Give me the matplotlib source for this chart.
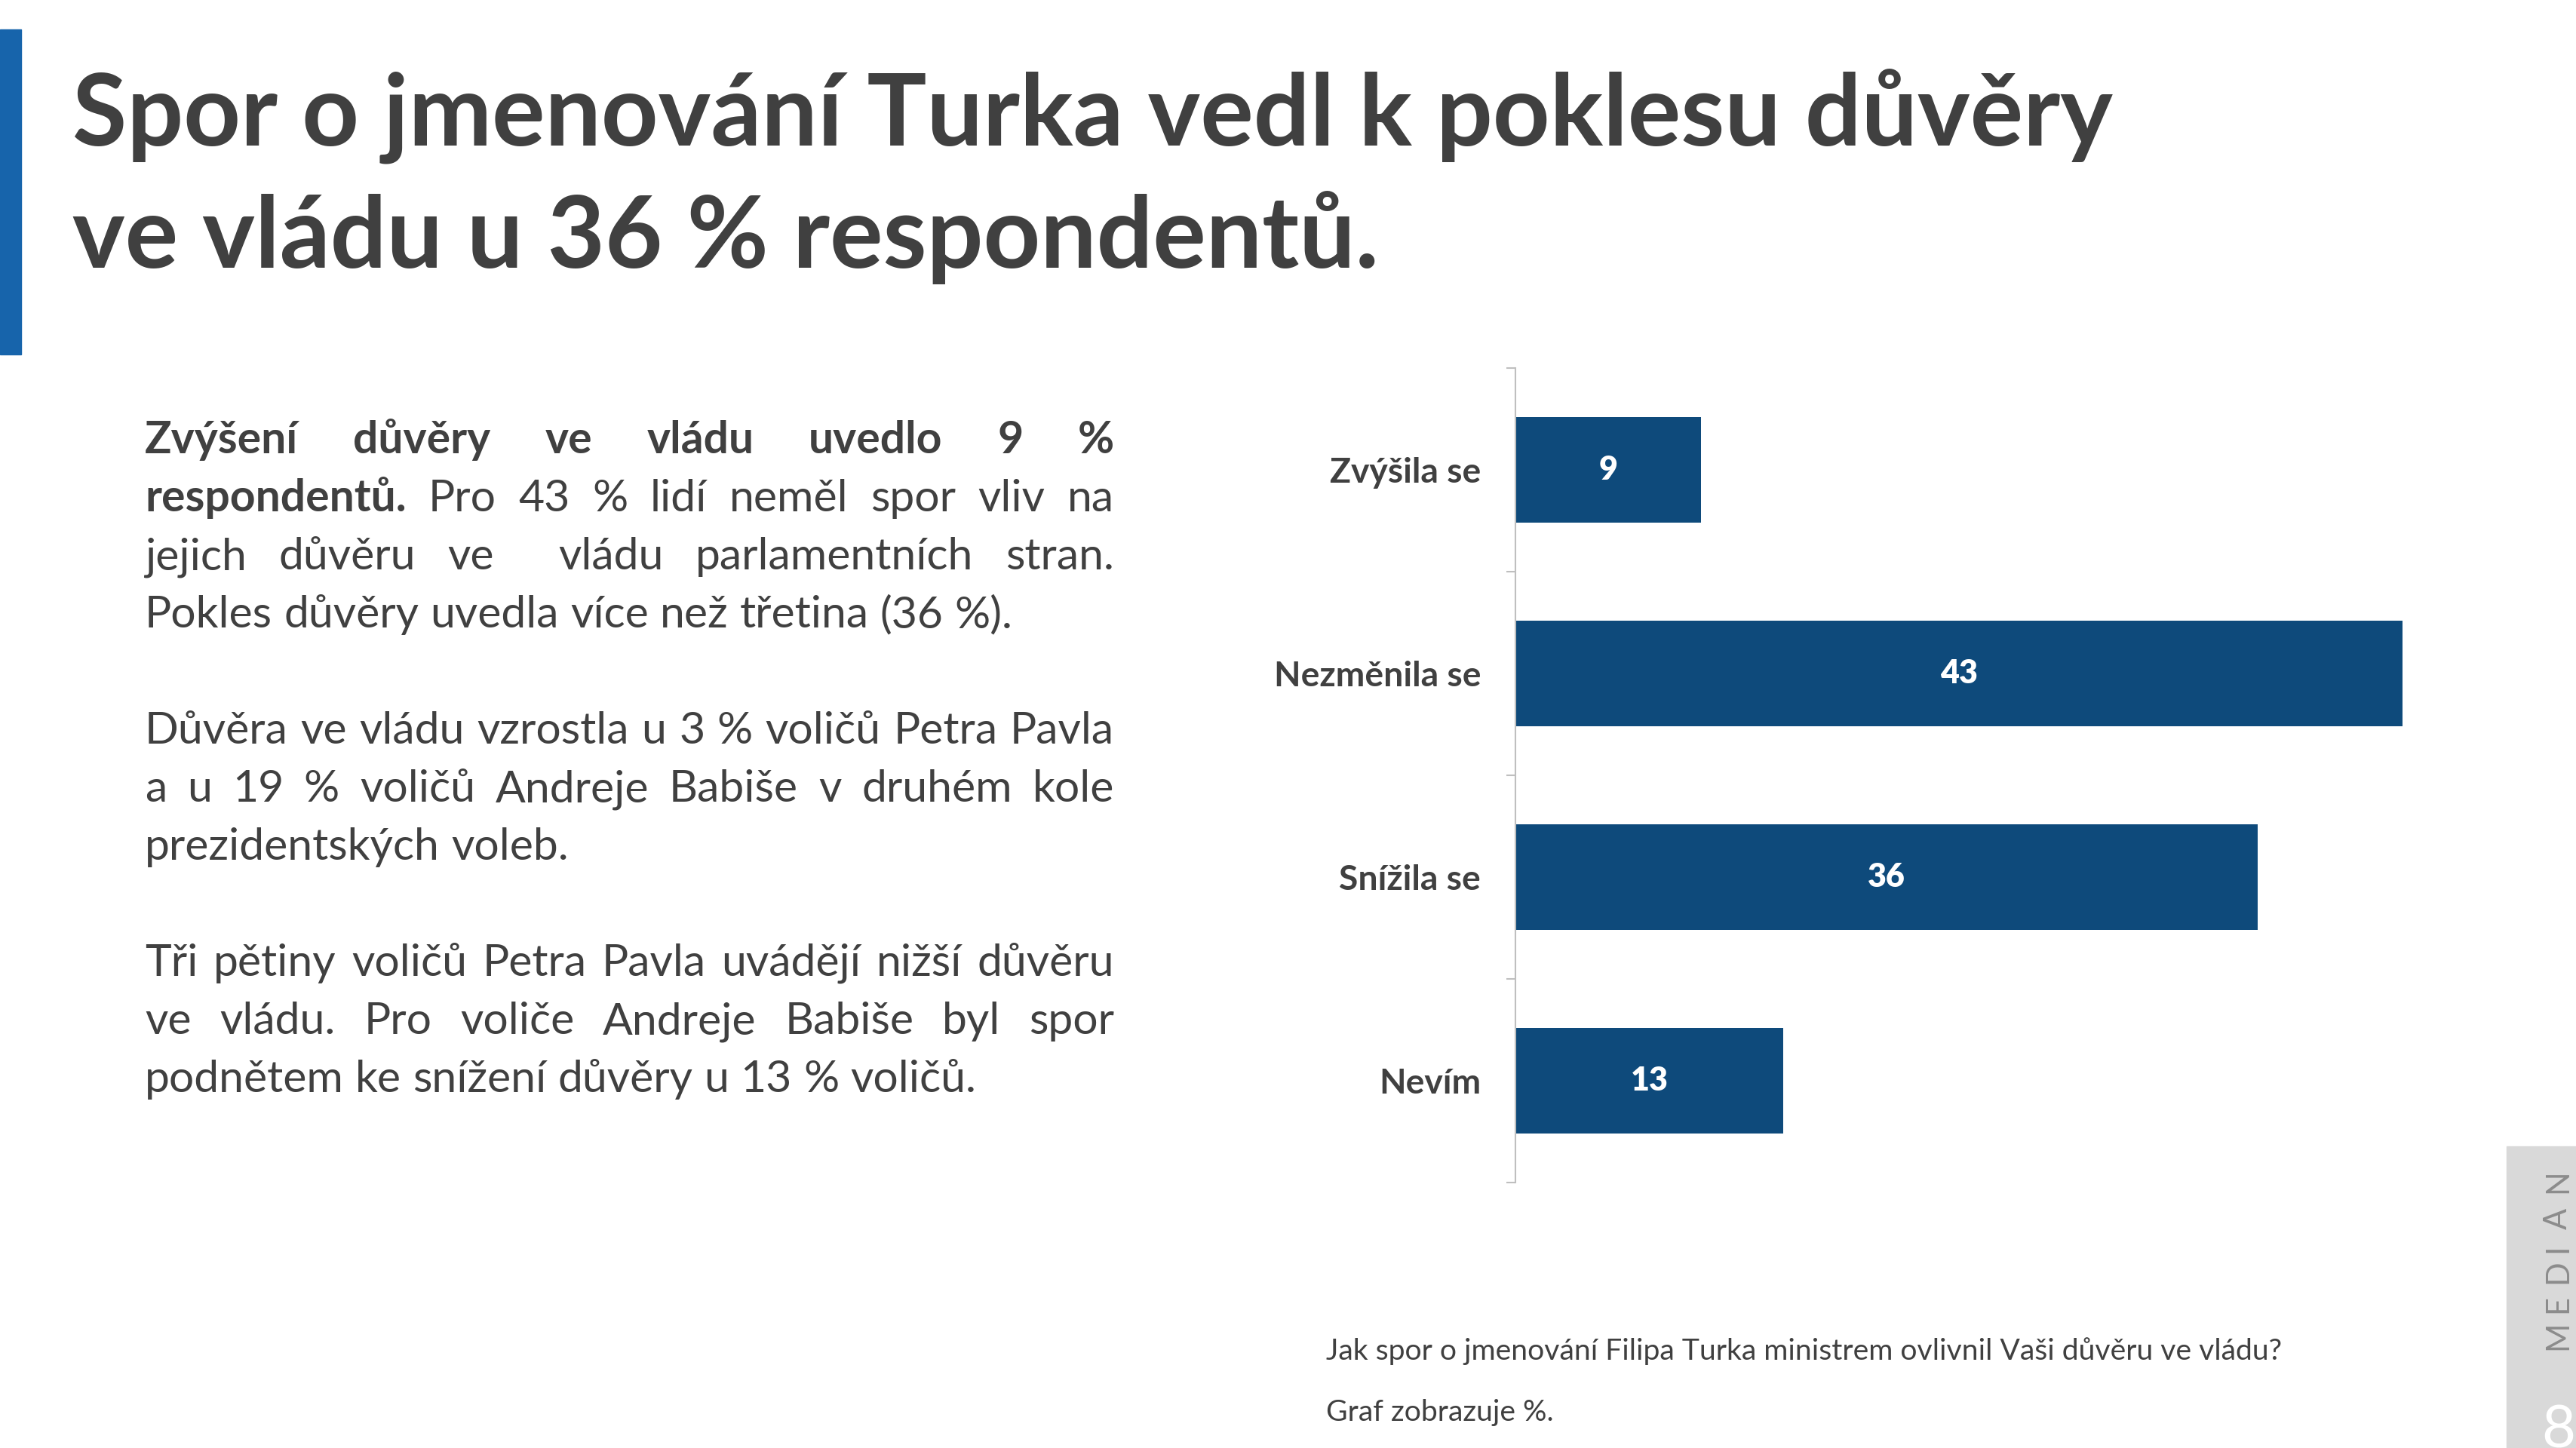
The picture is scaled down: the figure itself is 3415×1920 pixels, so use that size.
import numpy as np
import matplotlib.pyplot as plt
from matplotlib.patches import Rectangle

W, H = 3415, 1920
DPI = 100
FAM = ['Lato', 'DejaVu Sans']
DARK = '#404040'
BAR = '#0e4a7b'
ACCENT = '#1764ab'

categories = ['Zvýšila se', 'Nezměnila se', 'Snížila se', 'Nevím']
values = [9, 43, 36, 13]

title_lines = ['Spor o jmenování Turka vedl k poklesu důvěry',
               've vládu u 36 % respondentů.']

# (bold part, regular part, justified?) ; None = empty line
paragraph_lines = [
    ('Zvýšení důvěry ve vládu uvedlo 9 %', '', True),
    ('respondentů.', 'Pro 43 % lidí neměl spor vliv na', True),
    ('', 'jejich důvěru ve  vládu parlamentních stran.', True),
    ('', 'Pokles důvěry uvedla více než třetina (36 %).', False),
    None,
    ('', 'Důvěra ve vládu vzrostla u 3 % voličů Petra Pavla', True),
    ('', 'a u 19 % voličů Andreje Babiše v druhém kole', True),
    ('', 'prezidentských voleb.', False),
    None,
    ('', 'Tři pětiny voličů Petra Pavla uvádějí nižší důvěru', True),
    ('', 've vládu. Pro voliče Andreje Babiše byl spor', True),
    ('', 'podnětem ke snížení důvěry u 13 % voličů.', False),
]

note_lines = ['Jak spor o jmenování Filipa Turka ministrem ovlivnil Vaši důvěru ve vládu?',
              'Graf zobrazuje %.']

plt.rcParams['font.family'] = FAM
fig = plt.figure(figsize=(W / DPI, H / DPI), dpi=DPI)
fig.patch.set_facecolor('white')
r = fig.canvas.get_renderer()


def fx(px):
    return px / W


def fy(py):
    return 1 - py / H


def text_width(s, size, weight='normal'):
    t = fig.text(0, 0, s, fontsize=size, fontweight=weight)
    w = t.get_window_extent(r).width
    t.remove()
    return w


def fit(s, target, weight='normal'):
    return 20 * target / text_width(s, 20, weight)


# left accent bar
fig.patches.append(Rectangle((0, fy(470)), fx(28), (470 - 39) / H,
                             transform=fig.transFigure, color=ACCENT))

# title
ts = fit(title_lines[0], 2707, 'bold')
for i, line in enumerate(title_lines):
    fig.text(fx(96), fy(192 + i * 163), line, fontsize=ts, fontweight='bold',
             color=DARK, va='baseline', ha='left')

# paragraph text, justified between x0 and x1
x0, x1 = 192, 1477
ps = fit('Pokles důvěry uvedla více než třetina (36 %).', 1154)
space = text_width('a a', ps) - text_width('aa', ps)
y = 601
for line in paragraph_lines:
    if line is None:
        y += 77
        continue
    bold, reg, just = line
    words = [(w, 'bold') for w in bold.split(' ') if bold] + \
            [(w, 'normal') for w in reg.split(' ') if reg]
    widths = [text_width(w, ps, wt) if w else 0 for w, wt in words]
    if just and len(words) > 1:
        gap = (x1 - x0 - sum(widths)) / (len(words) - 1)
    else:
        gap = space
    x = x0
    for (w, wt), wd in zip(words, widths):
        if w:
            fig.text(fx(x), fy(y), w, fontsize=ps, fontweight=wt, color=DARK,
                     va='baseline', ha='left')
        x += wd + gap
    y += 77

# bar chart
ax = fig.add_axes([fx(2009), fy(1568), 1367 / W, 1080 / H])
ypos = np.arange(len(categories))
ax.barh(ypos, values, height=0.52, color=BAR)
ax.set_xlim(0, 50)
ax.set_ylim(len(categories) - 0.5, -0.5)
for s in ['top', 'right', 'bottom']:
    ax.spines[s].set_visible(False)
ax.spines['left'].set_color('#bfbfbf')
ax.spines['left'].set_linewidth(1.5)
ax.set_xticks([])
cs = fit('Nezměnila se', 274, 'bold')
ax.set_yticks(ypos)
ax.set_yticklabels(categories, fontsize=cs, fontweight='bold', color=DARK)
ax.tick_params(axis='y', which='major', length=0, pad=33)
ax.set_yticks(np.arange(len(categories) + 1) - 0.5, minor=True)
ax.tick_params(axis='y', which='minor', length=9, width=1.5, color='#bfbfbf')
vs = fit('43', 50, 'heavy')
for i, v in enumerate(values):
    ax.text(v / 2, i, str(v), ha='center', va='center', color='white',
            fontsize=vs, fontweight='heavy')

# notes
ns = fit(note_lines[0], 1270)
fig.text(fx(1758), fy(1803), note_lines[0], fontsize=ns, color=DARK, va='baseline')
fig.text(fx(1758), fy(1884), note_lines[1], fontsize=ns, color=DARK, va='baseline')

# MEDIAN side tab
fig.patches.append(Rectangle((fx(3323), 0), 1 - fx(3323), 400 / H,
                             transform=fig.transFigure, color='#d9d9d9'))
tab_y = [1771, 1729, 1686, 1655, 1616, 1566]
for ch, ty in zip('MEDIAN', tab_y):
    fig.text(fx(3391), fy(ty), ch, fontsize=30, color='#8c8c8c',
             rotation=90, ha='center', va='center')
fig.text(fx(3392), fy(1862), '8', fontsize=56, color='white',
         ha='center', va='top')

fig.savefig('out.png', dpi=DPI)
